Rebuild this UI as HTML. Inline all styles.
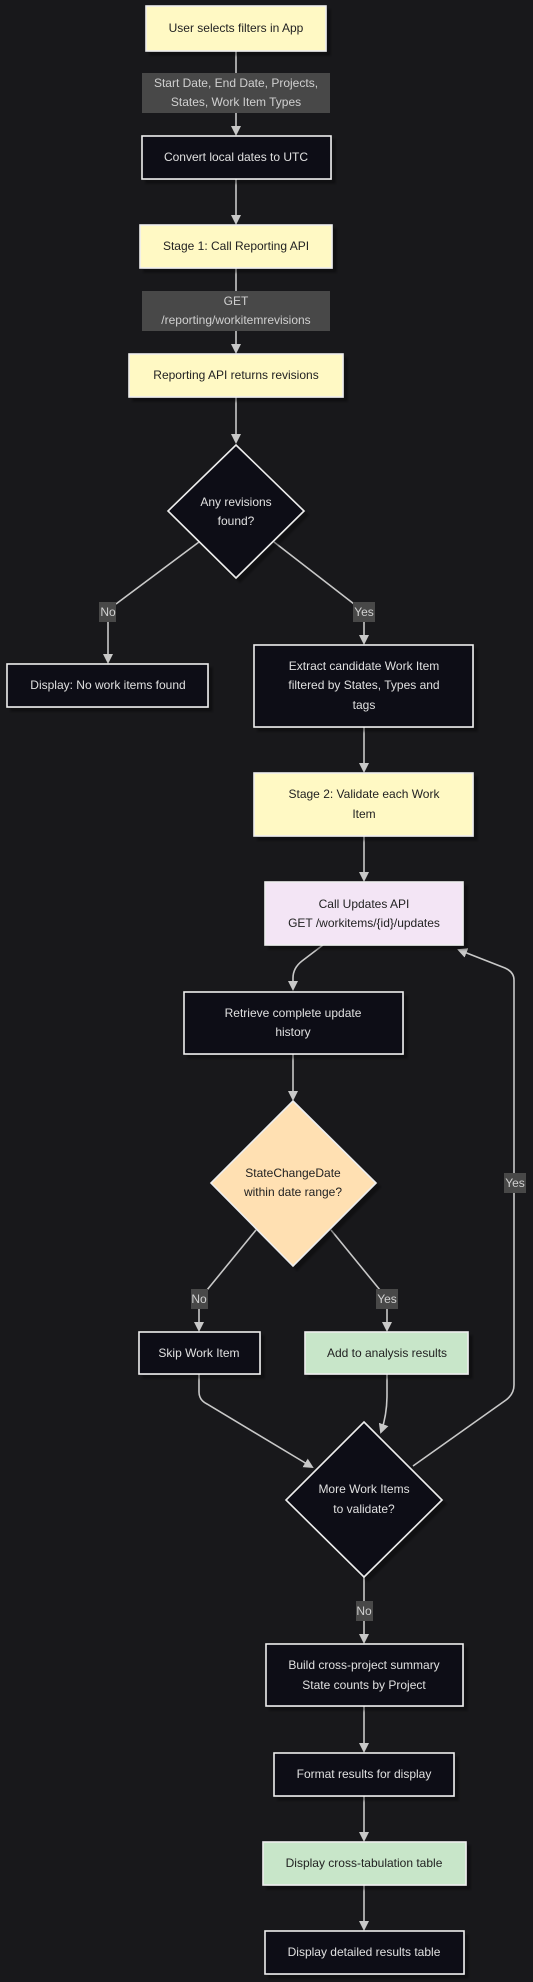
<!DOCTYPE html>
<html><head><meta charset="utf-8"><style>
html,body{margin:0;padding:0;background:#18181b;}
svg{display:block;}
text{font-family:"Liberation Sans",Arial,sans-serif;font-size:12px;text-anchor:middle;dominant-baseline:central;}
.d{fill:#e0e0e0;}
.k{fill:#222;}
.lb{fill:#484848;}
.lt{fill:#d0d0d0;font-size:12px;}
.ln{stroke:#c8c8c8;stroke-width:1.6;fill:none;}
.nb{stroke:#eeeeee;stroke-width:1.6;}
</style></head><body>
<svg width="533" height="1982" viewBox="0 0 533 1982" xmlns="http://www.w3.org/2000/svg">
<defs>
<marker id="a" markerWidth="10" markerHeight="10" refX="8" refY="5" orient="auto" markerUnits="userSpaceOnUse">
<path d="M0,0 L10,5 L0,10 z" fill="#c8c8c8"/></marker>
<filter id="s" x="-10%" y="-10%" width="130%" height="130%"><feDropShadow dx="4" dy="4" stdDeviation="1" flood-color="#000" flood-opacity="0.35"/></filter>
</defs>

<!-- connectors -->
<path class="ln" d="M236,51 V73"/>
<path class="ln" d="M236,113 V134" marker-end="url(#a)"/>
<path class="ln" d="M236,179 V223" marker-end="url(#a)"/>
<path class="ln" d="M236,268 V291"/>
<path class="ln" d="M236,331 V352" marker-end="url(#a)"/>
<path class="ln" d="M236,397 V442" marker-end="url(#a)"/>
<path class="ln" d="M199,542 L116,604"/>
<path class="ln" d="M108,622 V662" marker-end="url(#a)"/>
<path class="ln" d="M274,542 L354,604"/>
<path class="ln" d="M364,622 V643" marker-end="url(#a)"/>
<path class="ln" d="M364,727 V771" marker-end="url(#a)"/>
<path class="ln" d="M364,836 V880" marker-end="url(#a)"/>
<path class="ln" d="M323,945 L302,961 Q293,968 293,978 V989" marker-end="url(#a)"/>
<path class="ln" d="M293,1054 V1099" marker-end="url(#a)"/>
<path class="ln" d="M256,1230 L207,1290"/>
<path class="ln" d="M199,1308 V1330" marker-end="url(#a)"/>
<path class="ln" d="M331,1230 L380,1290"/>
<path class="ln" d="M387,1308 V1330" marker-end="url(#a)"/>
<path class="ln" d="M199,1374 V1392 Q199,1400 207,1404 L312,1467" marker-end="url(#a)"/>
<path class="ln" d="M387,1374 V1395 Q387,1415 381,1432" marker-end="url(#a)"/>
<path class="ln" d="M413,1466 L506,1400 Q514,1394 514,1385 V980 Q514,972 505,968 L459,950" marker-end="url(#a)"/>
<path class="ln" d="M364,1577 V1601"/>
<path class="ln" d="M364,1621 V1642" marker-end="url(#a)"/>
<path class="ln" d="M364,1706 V1751" marker-end="url(#a)"/>
<path class="ln" d="M364,1796 V1840" marker-end="url(#a)"/>
<path class="ln" d="M364,1885 V1929" marker-end="url(#a)"/>

<!-- nodes -->
<rect x="146" y="6" width="180" height="45" fill="#fff9c4" class="nb" filter="url(#s)"/>
<text x="236" y="28" class="k">User selects filters in App</text>

<rect x="142" y="73" width="188" height="40" class="lb"/>
<text x="236" y="83" class="lt">Start Date, End Date, Projects,</text>
<text x="236" y="102" class="lt">States, Work Item Types</text>

<rect x="142" y="136" width="189" height="43" fill="#0c0c14" class="nb" filter="url(#s)"/>
<text x="236" y="157" class="d">Convert local dates to UTC</text>

<rect x="140" y="225" width="192" height="43" fill="#fff9c4" class="nb" filter="url(#s)"/>
<text x="236" y="246" class="k">Stage 1: Call Reporting API</text>

<rect x="142" y="291" width="188" height="40" class="lb"/>
<text x="236" y="301" class="lt">GET</text>
<text x="236" y="320" class="lt">/reporting/workitemrevisions</text>

<rect x="129" y="354" width="214" height="43" fill="#fff9c4" class="nb" filter="url(#s)"/>
<text x="236" y="375" class="k">Reporting API returns revisions</text>

<polygon points="236,445 304,511 236,578 168,511" fill="#0c0c14" class="nb" filter="url(#s)"/>
<text x="236" y="502" class="d">Any revisions</text>
<text x="236" y="521" class="d">found?</text>

<rect x="99" y="602" width="17" height="20" class="lb"/>
<text x="108" y="612" class="lt">No</text>
<rect x="353" y="602" width="22" height="20" class="lb"/>
<text x="364" y="612" class="lt">Yes</text>

<rect x="7" y="664" width="201" height="43" fill="#0c0c14" class="nb" filter="url(#s)"/>
<text x="108" y="685" class="d">Display: No work items found</text>

<rect x="254" y="645" width="219" height="82" fill="#0c0c14" class="nb" filter="url(#s)"/>
<text x="364" y="666" class="d">Extract candidate Work Item</text>
<text x="364" y="685" class="d">filtered by States, Types and</text>
<text x="364" y="705" class="d">tags</text>

<rect x="254" y="773" width="219" height="63" fill="#fff9c4" class="nb" filter="url(#s)"/>
<text x="364" y="794" class="k">Stage 2: Validate each Work</text>
<text x="364" y="814" class="k">Item</text>

<rect x="265" y="882" width="198" height="63" fill="#f3e5f5" class="nb" filter="url(#s)"/>
<text x="364" y="904" class="k">Call Updates API</text>
<text x="364" y="923" class="k">GET /workitems/{id}/updates</text>

<rect x="184" y="992" width="219" height="62" fill="#0c0c14" class="nb" filter="url(#s)"/>
<text x="293" y="1013" class="d">Retrieve complete update</text>
<text x="293" y="1032" class="d">history</text>

<polygon points="293,1101 376,1183 293,1266 211,1183" fill="#ffe0b2" class="nb" filter="url(#s)"/>
<text x="293" y="1173" class="k">StateChangeDate</text>
<text x="293" y="1192" class="k">within date range?</text>

<rect x="191" y="1289" width="17" height="20" class="lb"/>
<text x="199" y="1299" class="lt">No</text>
<rect x="376" y="1289" width="22" height="20" class="lb"/>
<text x="387" y="1299" class="lt">Yes</text>
<rect x="504" y="1173" width="22" height="20" class="lb"/>
<text x="515" y="1183" class="lt">Yes</text>

<rect x="139" y="1332" width="121" height="42" fill="#0c0c14" class="nb" filter="url(#s)"/>
<text x="199" y="1353" class="d">Skip Work Item</text>

<rect x="305" y="1332" width="163" height="42" fill="#c8e6c9" class="nb" filter="url(#s)"/>
<text x="387" y="1353" class="k">Add to analysis results</text>

<polygon points="364,1422 442,1500 364,1577 286,1500" fill="#0c0c14" class="nb" filter="url(#s)"/>
<text x="364" y="1489" class="d">More Work Items</text>
<text x="364" y="1509" class="d">to validate?</text>

<rect x="356" y="1601" width="17" height="20" class="lb"/>
<text x="364" y="1611" class="lt">No</text>

<rect x="266" y="1644" width="197" height="62" fill="#0c0c14" class="nb" filter="url(#s)"/>
<text x="364" y="1665" class="d">Build cross-project summary</text>
<text x="364" y="1685" class="d">State counts by Project</text>

<rect x="274" y="1753" width="180" height="43" fill="#0c0c14" class="nb" filter="url(#s)"/>
<text x="364" y="1774" class="d">Format results for display</text>

<rect x="263" y="1842" width="203" height="43" fill="#c8e6c9" class="nb" filter="url(#s)"/>
<text x="364" y="1863" class="k">Display cross-tabulation table</text>

<rect x="265" y="1931" width="199" height="43" fill="#0c0c14" class="nb" filter="url(#s)"/>
<text x="364" y="1952" class="d">Display detailed results table</text>
</svg>
</body></html>
